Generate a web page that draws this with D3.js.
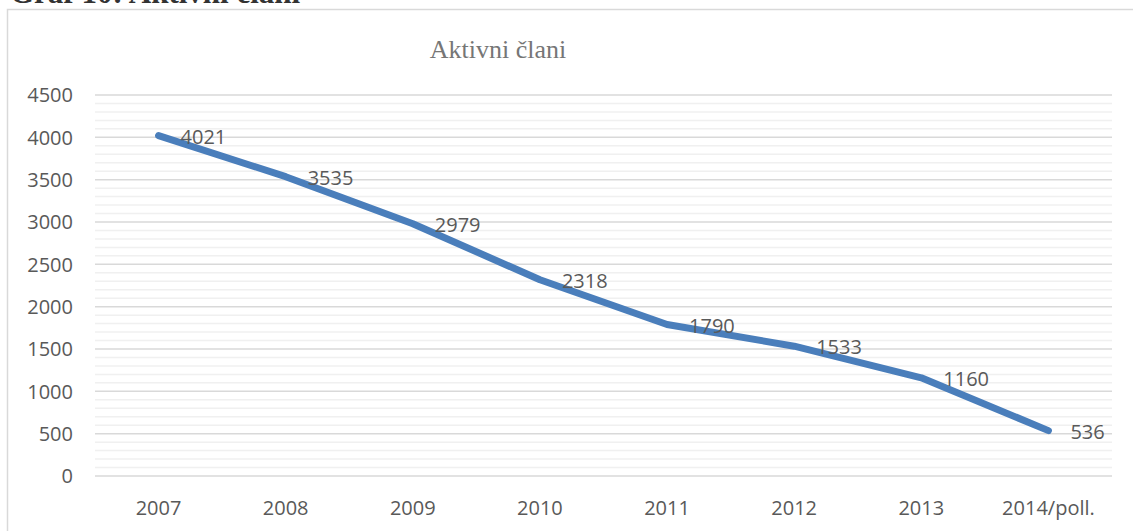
<!DOCTYPE html>
<html>
<head>
<meta charset="utf-8">
<script src="https://cdn.jsdelivr.net/npm/d3@7"></script>
<style>
  body { margin: 0; background: #fff; }
  svg { display: block; }
</style>
</head>
<body>
<svg width="1133" height="531"></svg>
<script>
// data
let years = ["2007", "2008", "2009", "2010", "2011", "2012", "2013", "2014/poll."];
let members = [4021, 3535, 2979, 2318, 1790, 1533, 1160, 536];
let yTicks = [0, 500, 1000, 1500, 2000, 2500, 3000, 3500, 4000, 4500];

let svg = d3.select("svg"),
    width = +svg.attr("width"),
    height = +svg.attr("height");

let plotLeft = 95, plotRight = 1112, plotTop = 95, plotBottom = 476;
let labelColor = "#595959";
let labelFont = "Open Sans, sans-serif";

// caption of the figure, mostly cut off by the top edge
svg.append("text")
    .attr("x", 10)
    .attr("y", 3)
    .attr("font-family", "Liberation Serif, serif")
    .attr("font-weight", "bold")
    .attr("font-size", 31)
    .attr("fill", "#333")
    .text("Graf 10: Aktivni člani");

// chart frame
svg.append("rect")
    .attr("x", 7.5)
    .attr("y", 9.5)
    .attr("width", width)
    .attr("height", height)
    .attr("fill", "none")
    .attr("stroke", "#d9d9d9")
    .attr("stroke-width", 1.5);

let x = d3.scaleBand().domain(years).range([plotLeft, plotRight]);
let y = d3.scaleLinear().domain([0, 4500]).range([plotBottom, plotTop]);

// minor grid every 100
let minor = d3.range(0, 4501, 100).filter(v => v % 500 !== 0);
svg.append("g").selectAll("line")
    .data(minor)
    .enter().append("line")
    .attr("x1", plotLeft).attr("x2", plotRight)
    .attr("y1", d => y(d)).attr("y2", d => y(d))
    .attr("stroke", "#f0f0f0")
    .attr("stroke-width", 1.5);

// major grid
svg.append("g").selectAll("line")
    .data(yTicks)
    .enter().append("line")
    .attr("x1", plotLeft).attr("x2", plotRight)
    .attr("y1", d => y(d)).attr("y2", d => y(d))
    .attr("stroke", "#d9d9d9")
    .attr("stroke-width", 1.5);

// y axis labels
svg.append("g").selectAll("text")
    .data(yTicks)
    .enter().append("text")
    .attr("x", 73)
    .attr("y", d => y(d))
    .attr("dy", "0.36em")
    .attr("text-anchor", "end")
    .attr("font-family", labelFont)
    .attr("font-size", 20)
    .attr("fill", labelColor)
    .text(d => d);

// x axis labels
svg.append("g").selectAll("text")
    .data(years)
    .enter().append("text")
    .attr("x", d => x(d) + x.bandwidth() / 2)
    .attr("y", 515)
    .attr("text-anchor", "middle")
    .attr("font-family", labelFont)
    .attr("font-size", 20)
    .attr("fill", labelColor)
    .text(d => d);

// title
svg.append("text")
    .attr("x", 498)
    .attr("y", 58)
    .attr("text-anchor", "middle")
    .attr("font-family", "Liberation Serif, serif")
    .attr("font-size", 26)
    .attr("fill", "#767676")
    .text("Aktivni člani");

// the line
let line = d3.line()
    .x((d, i) => x(years[i]) + x.bandwidth() / 2)
    .y(d => y(d));

svg.append("path")
    .datum(members)
    .attr("d", line)
    .attr("fill", "none")
    .attr("stroke", "#4a7ebb")
    .attr("stroke-width", 7)
    .attr("stroke-linecap", "round")
    .attr("stroke-linejoin", "round");

// data labels to the right of each point
svg.append("g").selectAll("text")
    .data(members)
    .enter().append("text")
    .attr("x", (d, i) => x(years[i]) + x.bandwidth() / 2 + 22)
    .attr("y", d => y(d) + 1)
    .attr("dy", "0.36em")
    .attr("font-family", labelFont)
    .attr("font-size", 20)
    .attr("fill", labelColor)
    .text(d => d);
</script>
</body>
</html>
